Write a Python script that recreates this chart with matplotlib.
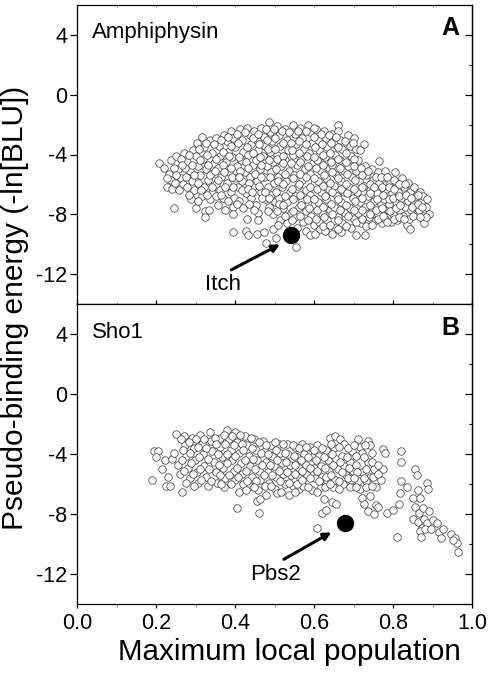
import matplotlib
matplotlib.use("Agg")
import matplotlib.pyplot as plt
from matplotlib.ticker import MultipleLocator

plt.rcParams['font.family'] = ['Liberation Sans', 'DejaVu Sans']
plt.rcParams['axes.unicode_minus'] = False

# values: (max local population, -ln[BLU])
amph_points = [
(.207,-4.58),(.22,-4.9),(.232,-5.3),(.245,-7.6),(.238,-5.7),(.226,-6.2),(.24,-6.3),(.236,-4.4),(.25,-4.1),(.255,-5.0),(.262,-5.6),(.268,-6.0),(.258,-6.35),
(.27,-3.9),(.278,-4.5),(.285,-5.1),(.29,-5.8),(.272,-4.9),(.296,-6.4),(.30,-7.6),(.288,-7.0),(.283,-6.7),(.292,-3.7),(.30,-4.1),(.305,-4.8),(.31,-5.4),(.302,-3.2),
(.315,-2.8),(.32,-3.5),(.318,-4.3),(.325,-5.0),(.33,-5.7),(.322,-6.2),(.315,-6.8),(.323,-7.75),(.323,-8.2),(.333,-7.7),(.335,-3.0),(.34,-3.9),(.345,-4.6),(.338,-5.3),(.35,-6.0),(.342,-6.6),(.336,-7.0),
(.35,-2.9),(.358,-3.4),(.362,-4.1),(.355,-4.9),(.365,-5.5),(.36,-6.4),(.356,-7.4),(.374,-7.7),(.37,-6.9),(.372,-2.7),(.378,-3.1),(.382,-3.8),(.376,-4.5),(.385,-5.2),(.378,-5.9),(.388,-6.5),
(.39,-2.4),(.395,-2.9),(.40,-3.5),(.392,-4.2),(.405,-4.8),(.398,-5.6),(.408,-6.2),(.396,-6.9),(.394,-7.5),(.394,-8.0),(.394,-9.2),(.41,-7.1),(.412,-2.3),(.418,-3.0),(.42,-3.8),(.415,-4.4),(.425,-5.2),(.418,-5.8),(.428,-6.6),(.42,-7.6),
(.427,-9.1),(.432,-9.35),(.43,-8.3),(.43,-2.2),(.436,-2.7),(.44,-3.3),(.433,-4.0),(.445,-4.7),(.438,-5.5),(.447,-6.1),(.44,-6.9),(.452,-7.4),(.448,-2.4),(.455,-3.0),(.458,-3.7),(.452,-4.4),(.462,-5.0),(.456,-5.8),(.465,-6.5),(.457,-7.9),(.455,-9.3),(.457,-8.35),
(.465,-2.2),(.472,-2.8),(.476,-3.4),(.47,-4.1),(.48,-4.8),(.473,-5.5),(.482,-6.2),(.475,-7.0),(.485,-7.5),(.473,-9.15),(.478,-9.9),(.485,-1.8),(.488,-2.5),(.492,-3.1),(.487,-3.8),(.496,-4.5),(.49,-5.2),(.498,-5.9),(.49,-6.7),(.5,-7.2),(.495,-8.0),(.496,-9.0),(.503,-9.55),
(.505,-2.1),(.51,-2.7),(.512,-3.4),(.505,-4.0),(.515,-4.8),(.508,-5.5),(.518,-6.2),(.51,-6.9),(.52,-7.6),(.512,-8.4),(.525,-2.3),(.53,-3.0),(.533,-3.7),(.526,-4.4),(.536,-5.1),(.528,-5.8),(.538,-6.5),(.53,-7.2),(.54,-7.9),(.532,-8.6),
(.545,-2.0),(.55,-2.6),(.553,-3.3),(.546,-4.0),(.556,-4.7),(.549,-5.4),(.558,-6.1),(.55,-6.8),(.56,-7.5),(.552,-8.2),(.554,-10.2),(.556,-8.9),(.565,-2.2),(.57,-2.9),(.573,-3.6),(.566,-4.3),(.576,-5.0),(.569,-5.7),(.578,-6.4),(.57,-7.1),(.58,-7.8),(.572,-8.5),(.578,-9.1),
(.585,-2.0),(.59,-2.5),(.593,-3.2),(.586,-3.9),(.596,-4.6),(.589,-5.3),(.598,-6.0),(.59,-6.7),(.6,-7.4),(.592,-8.1),(.589,-9.4),(.602,-9.3),(.598,-8.7),(.605,-2.3),(.61,-3.0),(.613,-3.7),(.606,-4.4),(.616,-5.1),(.609,-5.8),(.618,-6.5),(.61,-7.2),(.62,-7.9),(.612,-8.5),(.615,-9.0),
(.625,-2.4),(.63,-2.9),(.633,-3.5),(.626,-4.2),(.636,-4.9),(.629,-5.6),(.638,-6.3),(.63,-7.0),(.64,-7.7),(.632,-8.4),(.628,-9.1),(.645,-2.6),(.65,-3.3),(.653,-4.0),(.646,-4.7),(.656,-5.4),(.649,-6.1),(.658,-6.8),(.65,-7.5),(.66,-8.2),(.652,-8.9),(.645,-9.3),
(.66,-2.0),(.66,-2.4),(.665,-3.0),(.67,-3.6),(.664,-4.4),(.674,-5.1),(.667,-5.8),(.676,-6.5),(.668,-7.2),(.678,-7.9),(.67,-8.6),(.668,-9.2),(.685,-2.7),(.69,-3.4),(.693,-4.1),(.686,-4.8),(.696,-5.5),(.689,-6.2),(.698,-6.9),(.69,-7.6),(.7,-8.3),(.692,-8.9),
(.706,-9.35),(.7,-2.9),(.705,-3.6),(.71,-4.4),(.706,-5.1),(.714,-5.8),(.708,-6.5),(.716,-7.2),(.71,-7.9),(.718,-8.6),(.725,-3.3),(.729,-9.35),(.728,-4.8),(.732,-5.4),(.726,-6.1),(.735,-6.8),(.728,-7.5),(.738,-8.2),(.73,-8.8),
(.745,-5.0),(.748,-5.7),(.742,-6.4),(.752,-7.1),(.746,-7.8),(.756,-8.4),(.764,-4.45),(.76,-5.2),(.764,-5.9),(.758,-6.6),(.768,-7.3),(.762,-8.0),(.772,-8.6),(.778,-5.1),(.775,-5.6),(.782,-6.3),(.776,-7.0),(.786,-7.7),(.78,-8.3),(.792,-5.9),(.796,-6.6),(.79,-7.3),(.8,-8.0),(.794,-8.5),
(.805,-5.2),(.808,-5.9),(.812,-6.5),(.806,-7.2),(.816,-7.8),(.81,-8.4),(.822,-5.6),(.826,-6.2),(.82,-6.9),(.83,-7.5),(.824,-8.1),(.835,-8.7),(.843,-8.95),(.838,-5.9),(.842,-6.5),(.836,-7.1),(.846,-7.7),(.84,-8.3),(.853,-6.2),(.857,-6.8),(.851,-7.4),(.86,-8.0),
(.868,-6.5),(.872,-7.1),(.866,-7.7),(.876,-6.75),(.878,-8.55),(.875,-8.1),(.886,-7.0),(.882,-7.5),(.891,-7.95),(.884,-8.2),
]
# second pass over the same cloud, the circles that sit between the ones above
amph_fill = [
(.228,-5.6),(.244,-4.9),(.25,-5.4),(.248,-5.9),(.262,-4.3),(.266,-4.7),(.275,-5.5),(.278,-6.2),(.284,-4.0),(.29,-4.7),(.296,-5.4),(.305,-5.9),(.308,-3.6),(.31,-4.4),(.313,-6.4),(.305,-7.1),
(.325,-3.2),(.328,-4.0),(.332,-4.7),(.335,-5.4),(.34,-6.2),(.328,-6.7),(.345,-3.3),(.352,-4.3),(.348,-5.1),(.355,-5.7),(.35,-6.8),(.365,-3.0),(.368,-3.8),(.37,-4.7),(.372,-5.2),(.375,-6.2),(.365,-6.7),(.382,-2.8),(.388,-3.4),(.385,-4.1),(.39,-4.9),(.392,-5.5),(.395,-6.2),(.382,-7.1),
(.405,-2.6),(.408,-3.2),(.41,-4.2),(.412,-5.1),(.41,-5.5),(.416,-6.4),(.405,-7.3),(.425,-2.5),(.43,-3.5),(.427,-4.5),(.432,-4.9),(.435,-5.9),(.432,-6.3),(.435,-7.3),(.445,-2.9),(.445,-3.9),(.45,-5.3),(.442,-6.5),(.447,-7.7),(.458,-2.6),(.46,-3.3),(.462,-4.2),(.466,-4.7),(.465,-5.5),(.46,-6.1),(.468,-6.9),
(.478,-2.3),(.48,-3.0),(.483,-3.6),(.485,-4.4),(.487,-5.5),(.476,-6.5),(.486,-6.9),(.482,-7.8),(.498,-2.3),(.5,-2.9),(.5,-3.6),(.505,-4.3),(.503,-5.0),(.507,-5.8),(.502,-6.5),(.51,-7.3),(.505,-7.8),(.508,-8.7),
(.518,-2.4),(.522,-3.2),(.52,-4.1),(.522,-4.6),(.525,-5.3),(.522,-6.0),(.527,-6.8),(.522,-7.4),(.525,-8.1),(.537,-2.5),(.54,-3.2),(.543,-3.7),(.542,-4.6),(.545,-5.6),(.543,-6.3),(.545,-7.0),(.547,-7.8),(.543,-8.4),
(.558,-2.4),(.56,-3.1),(.562,-3.9),(.563,-4.5),(.565,-5.3),(.562,-6.0),(.565,-6.7),(.566,-7.4),(.565,-8.1),(.578,-2.4),(.58,-3.3),(.582,-4.1),(.585,-4.8),(.58,-5.5),(.588,-6.2),(.582,-7.0),(.586,-7.6),(.585,-8.4),
(.598,-2.2),(.6,-2.8),(.602,-3.5),(.6,-4.2),(.605,-4.9),(.6,-5.6),(.607,-6.3),(.6,-7.0),(.608,-7.7),(.605,-8.3),(.618,-2.6),(.62,-3.3),(.622,-4.0),(.622,-4.7),(.625,-5.4),(.622,-6.1),(.626,-6.8),(.623,-7.5),(.625,-8.2),(.622,-8.8),
(.638,-2.7),(.642,-3.2),(.64,-3.9),(.643,-4.5),(.645,-5.2),(.64,-5.9),(.646,-6.5),(.642,-7.3),(.646,-8.0),(.64,-8.7),(.655,-2.8),(.66,-3.5),(.66,-4.3),(.665,-4.9),(.66,-5.6),(.667,-6.3),(.66,-7.0),(.665,-7.7),(.66,-8.4),(.66,-9.0),
(.678,-3.1),(.68,-3.9),(.68,-4.5),(.684,-5.3),(.68,-6.0),(.684,-6.6),(.68,-7.4),(.686,-8.1),(.68,-8.8),(.698,-3.2),(.7,-4.3),(.7,-4.8),(.702,-5.7),(.7,-6.3),(.703,-7.1),(.7,-7.7),(.705,-8.5),(.715,-3.7),(.718,-4.9),(.72,-5.4),(.72,-6.2),(.722,-6.9),(.72,-7.7),(.722,-8.3),
(.735,-5.1),(.74,-6.0),(.74,-6.6),(.742,-7.4),(.74,-8.0),(.745,-8.7),(.755,-5.5),(.752,-6.2),(.758,-7.0),(.755,-7.7),(.76,-8.3),(.77,-5.5),(.772,-6.2),(.775,-6.7),(.772,-7.6),(.775,-8.1),(.785,-5.5),(.79,-6.2),(.788,-7.0),(.792,-7.8),(.785,-8.5),
(.802,-5.7),(.802,-6.3),(.8,-6.9),(.808,-7.6),(.802,-8.3),(.815,-6.0),(.815,-6.8),(.818,-7.4),(.815,-8.2),(.83,-6.0),(.832,-6.7),(.828,-8.3),(.845,-6.9),(.848,-7.5),(.85,-8.1),(.862,-6.7),(.862,-7.3),(.868,-8.2),(.873,-7.5),
]
sho1_points = [
(.19,-5.7),(.195,-3.75),(.205,-3.75),(.2,-4.2),(.215,-5.0),(.222,-4.4),(.225,-6.1),(.23,-5.5),(.235,-6.1),(.24,-4.3),(.245,-3.9),(.25,-2.65),(.255,-4.7),(.26,-5.3),(.265,-6.5),
(.27,-2.75),(.272,-3.4),(.275,-4.1),(.28,-4.9),(.285,-5.6),(.29,-2.9),(.295,-3.6),(.298,-4.4),(.302,-5.2),(.305,-5.9),(.31,-2.7),(.315,-3.3),(.318,-4.0),(.322,-4.8),(.326,-5.5),(.33,-6.1),
(.335,-2.5),(.338,-3.1),(.342,-3.8),(.346,-4.5),(.35,-5.2),(.354,-5.9),(.36,-2.9),(.362,-3.5),(.366,-4.2),(.37,-4.9),(.374,-5.6),(.372,-6.2),(.38,-2.4),(.384,-3.0),(.388,-3.7),(.392,-4.4),(.396,-5.1),(.4,-5.7),
(.4,-2.5),(.405,-3.2),(.41,-3.9),(.414,-4.6),(.418,-5.3),(.42,-6.0),(.41,-6.5),(.404,-7.6),(.425,-2.8),(.43,-3.4),(.434,-4.1),(.438,-4.8),(.442,-5.5),(.436,-6.1),(.448,-3.0),(.452,-3.7),(.456,-4.4),(.46,-5.1),(.462,-5.7),(.457,-6.4),(.46,-7.9),(.455,-7.1),(.462,-7.0),
(.47,-3.1),(.474,-3.8),(.478,-4.5),(.482,-5.2),(.486,-5.9),(.49,-3.4),(.494,-4.1),(.498,-4.8),(.502,-5.5),(.5,-6.3),(.51,-3.3),(.514,-3.9),(.518,-4.6),(.522,-5.3),(.526,-6.0),(.505,-6.6),
(.53,-3.3),(.534,-4.0),(.538,-4.7),(.542,-5.4),(.546,-6.1),(.535,-6.7),(.552,-3.5),(.556,-4.2),(.56,-4.9),(.564,-5.6),(.56,-6.3),(.57,-3.3),(.574,-4.0),(.578,-4.7),(.582,-5.4),(.572,-6.1),(.59,-3.5),(.594,-4.2),(.598,-4.9),(.602,-5.6),(.595,-6.4),
(.608,-3.4),(.612,-4.1),(.616,-4.8),(.62,-5.5),(.618,-6.2),(.624,-7.0),(.63,-3.7),(.634,-4.4),(.638,-5.1),(.632,-5.8),(.641,-2.9),(.652,-2.8),(.665,-3.0),(.65,-3.6),(.655,-4.3),(.66,-5.0),(.652,-5.7),(.648,-6.2),(.645,-7.2),(.62,-7.9),(.607,-8.9),(.63,-7.7),(.655,-7.3),
(.675,-3.3),(.67,-4.1),(.676,-4.8),(.68,-5.4),(.672,-6.0),(.695,-3.8),(.69,-4.5),(.697,-5.1),(.692,-5.7),(.71,-3.0),(.715,-3.5),(.72,-3.9),(.705,-4.7),(.72,-5.2),(.71,-5.8),(.715,-6.3),(.72,-6.9),
(.735,-3.1),(.74,-3.4),(.745,-3.9),(.735,-4.5),(.75,-5.0),(.74,-5.5),(.73,-5.8),(.755,-6.2),(.74,-6.8),(.725,-7.3),(.735,-7.8),(.755,-7.4),(.75,-8.0),(.76,-7.5),(.775,-3.65),(.78,-3.9),(.775,-5.0),(.77,-5.7),(.785,-7.9),(.8,-7.7),
(.82,-3.8),(.82,-4.5),(.82,-5.8),(.818,-6.6),(.815,-7.3),(.835,-6.2),(.81,-9.5),(.855,-5.0),(.86,-5.4),(.85,-6.9),(.855,-7.5),(.85,-8.3),(.862,-6.4),(.868,-6.9),(.865,-7.9),(.862,-8.5),
(.875,-7.6),(.878,-8.3),(.872,-8.9),(.868,-9.1),(.87,-9.5),(.885,-5.9),(.888,-6.3),(.89,-7.8),(.885,-8.6),(.88,-9.0),(.895,-9.0),(.9,-8.4),(.91,-8.6),(.915,-9.2),(.92,-9.6),(.925,-9.0),(.945,-9.3),(.955,-9.6),(.96,-9.9),(.963,-10.5),(.95,-9.7),
]
sho1_fill = [
(.262,-3.0),(.268,-3.7),(.265,-4.4),(.27,-5.1),(.276,-5.9),(.282,-3.2),(.285,-3.9),(.288,-4.6),(.292,-5.3),(.296,-6.1),(.3,-3.0),(.305,-3.5),(.308,-4.2),(.31,-5.0),(.314,-5.7),(.322,-3.0),(.326,-3.6),(.33,-4.3),(.334,-5.0),(.338,-5.8),
(.348,-2.9),(.352,-3.3),(.355,-4.0),(.358,-4.7),(.362,-5.4),(.365,-6.0),(.372,-2.7),(.375,-3.3),(.378,-4.0),(.38,-4.6),(.385,-5.4),(.388,-6.0),(.392,-2.8),(.396,-3.4),(.4,-4.1),(.404,-4.9),(.408,-5.5),(.412,-2.7),(.418,-3.3),(.42,-3.7),(.425,-4.4),(.428,-5.1),(.43,-5.8),(.428,-6.4),
(.44,-2.9),(.442,-3.6),(.446,-4.3),(.45,-5.0),(.452,-5.8),(.448,-6.2),(.46,-3.2),(.464,-3.9),(.468,-4.7),(.472,-5.4),(.476,-6.1),(.478,-3.4),(.484,-4.0),(.488,-4.7),(.492,-5.4),(.49,-6.1),(.478,-6.7),(.5,-3.2),(.504,-3.7),(.506,-4.4),(.51,-5.1),(.514,-5.8),(.515,-6.5),
(.52,-3.3),(.525,-3.9),(.528,-4.5),(.532,-5.2),(.535,-5.9),(.545,-3.4),(.548,-4.1),(.55,-4.7),(.552,-5.3),(.555,-6.0),(.55,-6.5),(.562,-3.6),(.566,-4.4),(.57,-5.1),(.57,-5.7),(.58,-3.5),(.584,-4.2),(.588,-4.9),(.59,-5.6),(.585,-6.2),(.6,-3.7),(.604,-4.4),(.608,-5.1),(.612,-5.8),(.607,-6.5),
(.62,-3.6),(.625,-4.2),(.628,-4.9),(.63,-5.5),(.628,-6.2),(.642,-3.3),(.645,-4.0),(.648,-4.7),(.642,-5.4),(.64,-6.0),(.662,-3.5),(.664,-4.5),(.67,-5.2),(.662,-5.8),(.662,-6.3),(.685,-3.6),(.684,-4.2),(.688,-4.9),(.685,-5.6),(.69,-6.2),(.7,-3.4),(.705,-4.1),(.708,-5.2),(.7,-5.6),(.705,-6.2),
(.728,-3.4),(.725,-4.2),(.73,-5.0),(.725,-5.6),(.73,-6.2),(.745,-4.5),(.748,-5.5),(.745,-6.1),(.76,-4.7),(.76,-5.3),
]
hit_x = [.54, .678]
hit_y = [-9.4, -8.55]
panel_names = ["Amphiphysin", "Sho1"]
panel_tags = ["A", "B"]
hit_names = ["Itch", "Pbs2"]
yticks = [4, 0, -4, -8, -12]

fig = plt.figure(figsize=(4.9, 6.74), dpi=100)
ax1 = fig.add_axes([77.3/490, 1-304.3/674, 395/490, 299.6/674])
ax2 = fig.add_axes([77.3/490, 1-604.3/674, 395/490, 300/674])

for ax, pts, hx, hy in zip([ax1, ax2], [amph_points + amph_fill, sho1_points + sho1_fill], hit_x, hit_y):
    xs = [p[0] for p in pts]
    ys = [p[1] for p in pts]
    ax.plot(xs, ys, "o", ms=5.4, mfc="white", mec="#444444", mew=0.55, ls="none", zorder=2)
    ax.plot([hx], [hy], "o", ms=11.5, c="black", zorder=3)
    ax.set_xlim(0, 1)
    ax.set_ylim(-14, 6)
    ax.set_yticks(yticks)
    ax.xaxis.set_major_locator(MultipleLocator(0.2))
    ax.xaxis.set_minor_locator(MultipleLocator(0.1))
    ax.tick_params(axis="y", which="major", left=True, right=False, direction="out", length=5, width=0.9, labelsize=15.5, pad=2)
    ax.tick_params(axis="x", which="both", bottom=False, top=True, direction="in", length=1.5, width=0.7, color="#777777")
    for s in ax.spines.values():
        s.set_linewidth(0.9)
    # right side ticks point inward, left ones outward
    sec = ax.secondary_yaxis("right")
    sec.set_yticks(yticks)
    sec.yaxis.set_minor_locator(MultipleLocator(2))
    sec.tick_params(axis="y", which="major", direction="in", length=5, width=0.9, labelright=False)
    sec.tick_params(axis="y", which="minor", direction="in", length=2.5, width=0.8)
    sec.spines["right"].set_linewidth(0.9)

ax1.tick_params(labelbottom=False)
ax2.tick_params(axis="x", which="major", bottom=True, top=True, direction="out", length=3, width=0.9, color="black", labelsize=15.5, pad=3)
ax2.tick_params(axis="x", which="minor", bottom=True, top=True, direction="out", length=1.8, width=0.7)
ax2.set_xticks([0, .2, .4, .6, .8, 1.0])

ax1.text(.037, 4.15, panel_names[0], fontsize=16, va="center")
ax2.text(.037, 4.15, panel_names[1], fontsize=16, va="center")
ax1.text(.945, 4.45, panel_tags[0], fontsize=18, fontweight="bold", ha="center", va="center")
ax2.text(.945, 4.45, panel_tags[1], fontsize=18, fontweight="bold", ha="center", va="center")

ax1.annotate("", xy=(.513, -10.0), xytext=(.39, -11.7),
             arrowprops=dict(arrowstyle="-|>", lw=2.2, color="black", mutation_scale=11, shrinkA=0, shrinkB=0))
ax1.text(.37, -12.7, hit_names[0], fontsize=16, ha="center", va="center")
ax2.annotate("", xy=(.643, -9.2), xytext=(.523, -11.0),
             arrowprops=dict(arrowstyle="-|>", lw=2.2, color="black", mutation_scale=11, shrinkA=0, shrinkB=0))
ax2.text(.502, -12.0, hit_names[1], fontsize=16, ha="center", va="center")

fig.text(289/490, 1-652/674, "Maximum local population", fontsize=21.3, ha="center", va="center")
fig.text(15/490, 1-308/674, "Pseudo-binding energy (-ln[BLU])", fontsize=21.5, rotation=90, ha="center", va="center")

fig.savefig("out.png", dpi=100)
